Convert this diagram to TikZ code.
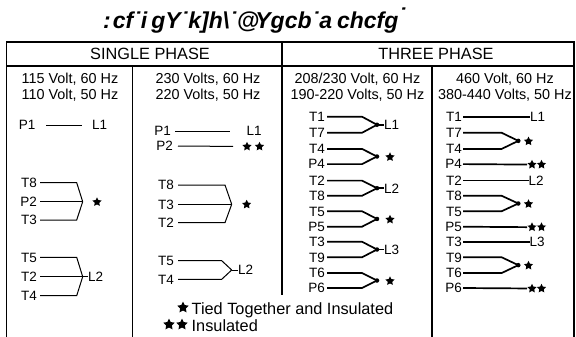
\documentclass[tikz,border=0pt]{standalone}
\usepackage{fontspec}
\setmainfont{Liberation Sans}
\usetikzlibrary{shapes.geometric}
\begin{document}
\begin{tikzpicture}[x=1pt,y=-1pt,
 lab/.style={inner sep=0pt,text height=9.6pt,text depth=0pt,font=\fontsize{13.5}{14}\selectfont},
 labr/.style={lab,anchor=east},
 labl/.style={lab,anchor=west},
 hdr/.style={inner sep=0pt,font=\fontsize{16.3}{18}\selectfont,text height=11.7pt,text depth=0pt},
 volt/.style={inner sep=0pt,font=\fontsize{14.4}{16}\selectfont,anchor=base},
 foot/.style={inner sep=0pt,font=\fontsize{16.3}{18}\selectfont,anchor=base west},
 frame/.style={line width=1.8pt},
 wire/.style={line width=1pt},
 bwire/.style={line width=1.7pt},
 starm/.style={star,star points=5,star point ratio=2.0,fill=black,draw=none,inner sep=0pt,minimum size=9.5pt},
 bigstar/.style={starm,minimum size=12pt},
 jdot/.style={circle,fill=black,inner sep=0pt,minimum size=4.5pt}
]
\useasboundingbox (0,0) rectangle (576,337);

% title
\node[inner sep=0pt,anchor=base west,font=\fontsize{23}{26}\bfseries\itshape\selectfont] (title) at (103,28.8) {:\kern2pt cf˙i\kern4pt gY˙k]h\textbackslash˙@\kern-4pt Ygcb˙a\kern5pt chcfg\raisebox{4pt}{˙}};

% frame
\draw[frame] (6.5,337) -- (6.5,42) -- (574,42) -- (574,337);
\draw[frame] (6.5,66) -- (574,66);
\draw[frame] (132.5,66) -- (132.5,337);
\draw[frame] (282,42) -- (282,295);
\draw[frame] (432,66) -- (432,337);

% headers
\node[hdr] (sp) at (150,54) {SINGLE PHASE};
\node[hdr] (tp) at (436,54) {THREE PHASE};

\node[volt] (v1a) at (70,84) {115 Volt, 60 Hz};
\node[volt] (v1b) at (70,99.3) {110 Volt, 50 Hz};
\node[volt] (v2a) at (208,84) {230 Volts, 60 Hz};
\node[volt] (v2b) at (208,99.3) {220 Volts, 50 Hz};
\node[volt] (v3a) at (357.5,84) {208/230 Volt, 60 Hz};
\node[volt] (v3b) at (357.5,99.3) {190-220 Volts, 50 Hz};
\node[volt] (v4a) at (505,84) {460 Volt, 60 Hz};
\node[volt] (v4b) at (505,99.3) {380-440 Volts, 50 Hz};

% ---------- column 1
\node[labr] (a1) at (35.5,125) {P1};
\node[labl] (a2) at (92,125) {L1};
\draw[wire,shorten <=10.5pt,shorten >=10pt] (a1.east) -- (a2.west);

\node[labr] (a3) at (37,182.7) {T8};
\node[labr] (a4) at (37,201.7) {P2};
\node[labr] (a5) at (37,220) {T3};
\coordinate (ja1) at (82.7,201.7);
\node[starm] (as1) at (97,202) {};
\draw[wire] ([xshift=3pt]a3.east) -- ++(36.7,0) -- (ja1);
\draw[wire] ([xshift=3pt]a4.east) -- (ja1);
\draw[wire] ([xshift=3pt]a5.east) -- ++(36.7,0) -- (ja1);

\node[labr] (a6) at (37,257.3) {T5};
\node[labr] (a7) at (37,276.7) {T2};
\node[labr] (a8) at (37,295.7) {T4};
\coordinate (ja2) at (82.7,276.7);
\node[labl] (a9) at (88,276.7) {L2};
\draw[wire] ([xshift=3pt]a6.east) -- ++(36.7,0) -- (ja2);
\draw[wire] ([xshift=3pt]a7.east) -- (ja2);
\draw[wire] ([xshift=3pt]a8.east) -- ++(36.7,0) -- (ja2);
\draw[wire] (ja2) -- (a9.west);

% ---------- column 2
\node[labr] (b1) at (171,131) {P1};
\node[labl] (b2) at (246.5,131) {L1};
\draw[wire,shorten <=4pt,shorten >=16.5pt] (b1.east) -- (b2.west);

\node[labr] (b3) at (173,146) {P2};
\node[starm] (bs1) at (247,146.5) {};
\node[starm] (bs2) at (259.5,146.5) {};
\draw[wire,shorten <=5pt,shorten >=14pt] (b3.east) -- (bs1.center);

\node[labr] (b4) at (174,185) {T8};
\node[labr] (b5) at (174,204.3) {T3};
\node[labr] (b6) at (174,222.7) {T2};
\coordinate (jb1) at (231.7,204.3);
\node[starm] (bs3) at (246.7,204.5) {};
\draw[wire] ([xshift=4pt]b4.east) -- ++(47,0) -- (jb1);
\draw[wire] ([xshift=4pt]b5.east) -- (jb1);
\draw[wire] ([xshift=4pt]b6.east) -- ++(47,0) -- (jb1);

\node[labr] (b7) at (174,260.7) {T5};
\node[labr] (b8) at (174,279.3) {T4};
\coordinate (jb2) at (231.7,270);
\node[labl] (b9) at (238,270) {L2};
\draw[wire] ([xshift=4pt]b7.east) -- ++(43.7,0) -- (jb2);
\draw[wire] ([xshift=4pt]b8.east) -- ++(43.7,0) -- (jb2);
\draw[wire] (jb2) -- (b9.west);

% ---------- column 3
\node[labr] (c1) at (325,116.7) {T1};
\node[labr] (c2) at (325,132.8) {T7};
\node[labr] (c3) at (325,148.9) {T4};
\node[labr] (c4) at (325,164.1) {P4};
\node[labr] (c5) at (325,180.6) {T2};
\node[labr] (c6) at (325,195.8) {T8};
\node[labr] (c7) at (325,211.2) {T5};
\node[labr] (c8) at (325,226.7) {P5};
\node[labr] (c9) at (325,241.7) {T3};
\node[labr] (c10) at (325,257.3) {T9};
\node[labr] (c11) at (325,273) {T6};
\node[labr] (c12) at (325,288) {P6};

\node[jdot] (jc1) at (377,124.75) {};
\node[jdot] (jc2) at (377,156.5) {};
\node[jdot] (jc3) at (377,188.2) {};
\node[jdot] (jc4) at (377,218.95) {};
\node[jdot] (jc5) at (377,249.5) {};
\node[jdot] (jc6) at (377,280.5) {};

\node[labl] (cl1) at (384,124.75) {L1};
\node[starm] (cs1) at (390,157) {};
\node[labl] (cl2) at (384,188.2) {L2};
\node[starm] (cs2) at (390,219.5) {};
\node[labl] (cl3) at (384,249.5) {L3};
\node[starm] (cs3) at (390,281) {};

\foreach \u/\v/\j in {c1/c2/jc1,c3/c4/jc2,c5/c6/jc3,c7/c8/jc4,c9/c10/jc5,c11/c12/jc6}{
  \draw[bwire] ([xshift=2pt]\u.east) -- ++(35,0) -- (\j.center);
  \draw[bwire] ([xshift=2pt]\v.east) -- ++(35,0) -- (\j.center);
}
\draw[bwire] (jc1.center) -- (cl1.west);
\draw[bwire] (jc3.center) -- (cl2.west);
\draw[bwire] (jc5.center) -- (cl3.west);

% ---------- column 4
\node[labr] (d1) at (462,116.7) {T1};
\node[labr] (d2) at (462,132.8) {T7};
\node[labr] (d3) at (462,148.9) {T4};
\node[labr] (d4) at (462,164.1) {P4};
\node[labr] (d5) at (462,180.6) {T2};
\node[labr] (d6) at (462,195.8) {T8};
\node[labr] (d7) at (462,211.2) {T5};
\node[labr] (d8) at (462,226.7) {P5};
\node[labr] (d9) at (462,241.7) {T3};
\node[labr] (d10) at (462,257.3) {T9};
\node[labr] (d11) at (462,273) {T6};
\node[labr] (d12) at (462,288) {P6};

\node[labl] (dl1) at (530,116.7) {L1};
\node[labl] (dl2) at (528.5,180.6) {L2};
\node[labl] (dl3) at (529.5,241.7) {L3};

\node[jdot] (jd1) at (518.3,140.85) {};
\node[jdot] (jd2) at (518.3,203.5) {};
\node[jdot] (jd3) at (518.3,265.15) {};
\node[starm] (ds1) at (528.5,141.3) {};
\node[starm] (ds2) at (528.5,204) {};
\node[starm] (ds3) at (528.5,265.6) {};

\node[starm] (dd1) at (532,164.6) {};
\node[starm] (dd2) at (541.5,164.6) {};
\node[starm] (dd3) at (532,227.2) {};
\node[starm] (dd4) at (541.5,227.2) {};
\node[starm] (dd5) at (532,288.5) {};
\node[starm] (dd6) at (541.5,288.5) {};

\foreach \u/\v/\j in {d2/d3/jd1,d6/d7/jd2,d10/d11/jd3}{
  \draw[bwire] ([xshift=1pt]\u.east) -- ++(38.7,0) -- (\j.center);
  \draw[bwire] ([xshift=1pt]\v.east) -- ++(38.7,0) -- (\j.center);
}
\draw[bwire,shorten <=1pt] (d1.east) -- (dl1.west);
\draw[bwire,shorten <=1pt] (d5.east) -- (dl2.west);
\draw[bwire,shorten <=1pt] (d9.east) -- (dl3.west);
\draw[bwire,shorten <=1pt,shorten >=5pt] (d4.east) -- (dd1.center);
\draw[bwire,shorten <=1pt,shorten >=5pt] (d8.east) -- (dd3.center);
\draw[bwire,shorten <=1pt,shorten >=5pt] (d12.east) -- (dd5.center);

% ---------- footnote
\node[bigstar] (fs1) at (183,307.5) {};
\node[foot] (ft1) at (191.5,314.7) {Tied Together and Insulated};
\node[bigstar] (fs2) at (169,324.5) {};
\node[bigstar] (fs3) at (182,324.5) {};
\node[foot] (ft2) at (191.5,331) {Insulated};
\end{tikzpicture}
\end{document}
